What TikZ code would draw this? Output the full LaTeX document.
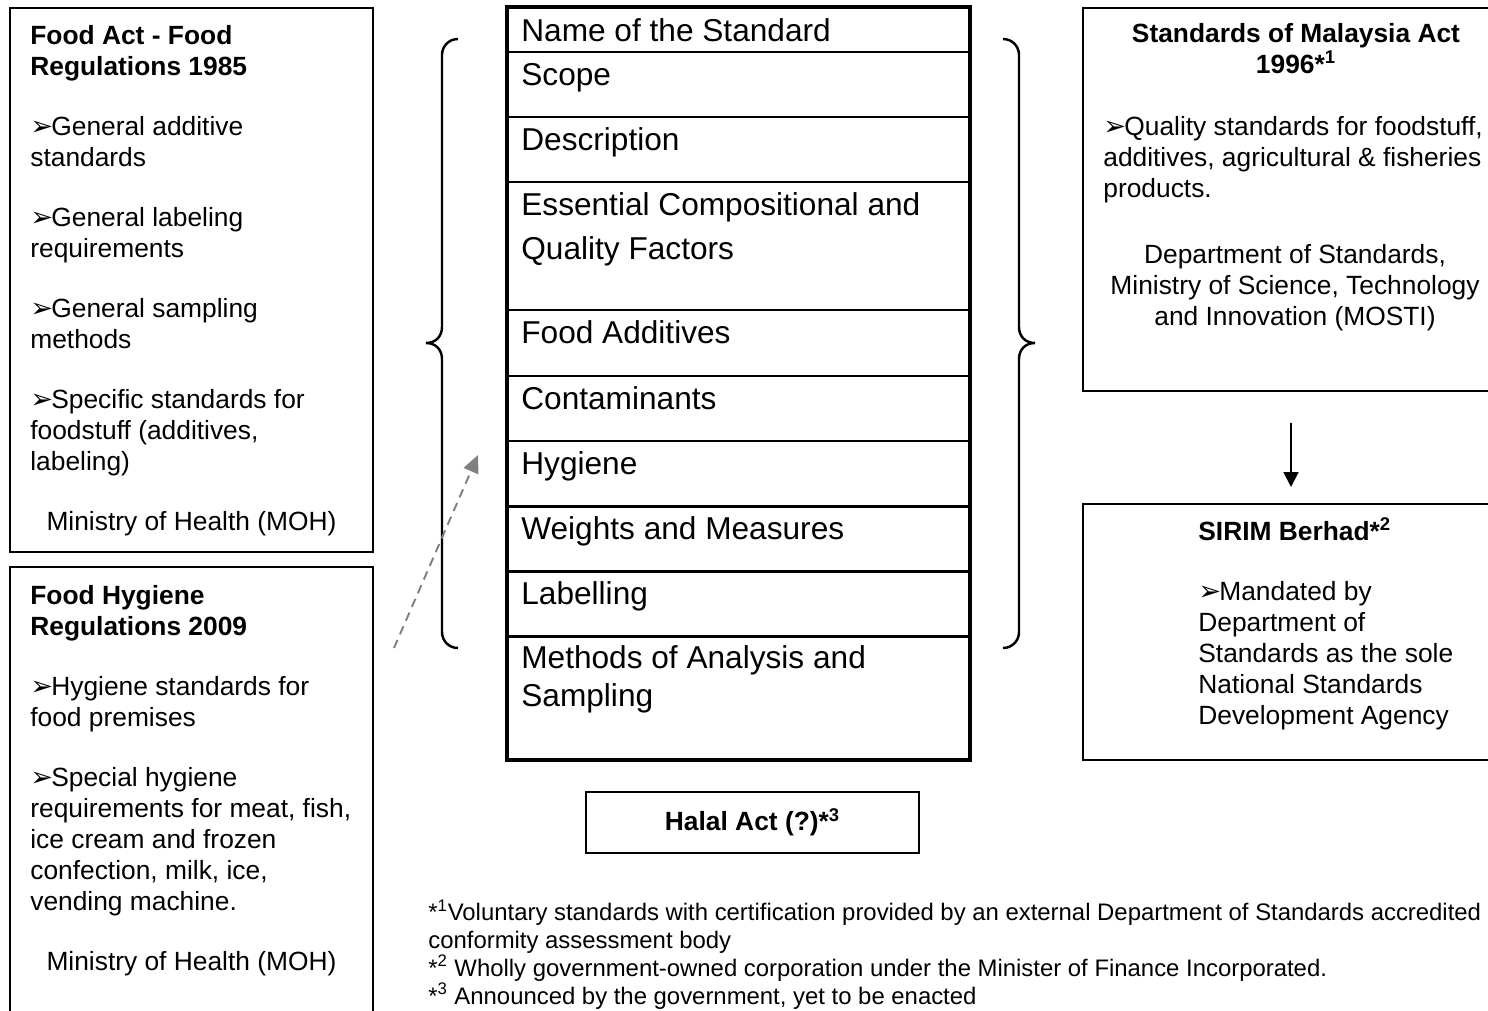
\documentclass[tikz,border=0pt]{standalone}
\usepackage{fontspec}
\setmainfont{Liberation Sans}
\newfontfamily\symfont{DejaVu Sans}
\usetikzlibrary{positioning}
\usetikzlibrary{arrows.meta}

% arrowhead bullet as in the slide
\newcommand{\bul}{\makebox[0.42cm][l]{\symfont\fontsize{15.5}{15.5}\selectfont ➢}}

\begin{document}
\begin{tikzpicture}[x=0.02cm, y=-0.02cm,
    panel/.style={draw, line width=1.1pt, inner sep=0pt},
    body/.style={font=\fontsize{15}{17.64}\selectfont, inner sep=0pt, align=left},
    cell/.style={font=\fontsize{18}{21.6}\selectfont, inner sep=0pt, align=left, anchor=base west},
    note/.style={font=\fontsize{13.6}{15.9}\selectfont, inner sep=0pt, align=left, anchor=base west},
    brace/.style={line width=1.4pt},
    dashedarrow/.style={draw=gray, line width=1.1pt, dash pattern=on 5pt off 3.5pt, -{Triangle[length=10pt,width=9pt]}},
    downarrow/.style={line width=1.1pt, -{Triangle[length=8.5pt,width=8.5pt]}}]
    % page size, boxes on the right and bottom run off the page
    \path[use as bounding box, clip] (0,0) rectangle (1488,1011);
    % multi-line texts are placed by the baseline of their last line
    \def\gap{16.5pt}

    % left column
    \node[panel, minimum width=7.26cm, minimum height=10.88cm] (foodact) at (191.5,280) {};
    \node[body, anchor=base west] (foodact-txt) at (30,470) {\textbf{Food Act - Food}\\\textbf{Regulations 1985}\\[\gap]
        \bul General additive\\standards\\[\gap]
        \bul General labeling\\requirements\\[\gap]
        \bul General sampling\\methods\\[\gap]
        \bul Specific standards for\\foodstuff (additives,\\labeling)};
    \node[body, anchor=base] (foodact-moh) at (191.5,530) {Ministry of Health (MOH)};

    \node[panel, minimum width=7.26cm, minimum height=9.46cm] (hygiene) at (191.5,803.5) {};
    \node[body, anchor=base west] (hygiene-txt) at (30,910) {\textbf{Food Hygiene}\\\textbf{Regulations 2009}\\[\gap]
        \bul Hygiene standards for\\food premises\\[\gap]
        \bul Special hygiene\\requirements for meat, fish,\\ice cream and frozen\\confection, milk, ice,\\vending machine.};
    \node[body, anchor=base] (hygiene-moh) at (191.5,970) {Ministry of Health (MOH)};

    % the standard and its parts
    \node[draw, line width=2.4pt, minimum width=9.26cm, minimum height=15.06cm] (std) at (738.5,383.5) {};
    \foreach \y in {52,117,182,310,376,441,506,571,636}
        \draw[line width=1.7pt] (507,\y) -- (970,\y);
    \foreach \y/\txt [count=\k] in {41/Name of the Standard, 85/Scope, 150/Description,
        259/{Essential Compositional and\\[2.9pt]Quality Factors}, 343/Food Additives, 409/Contaminants,
        474/Hygiene, 539/Weights and Measures, 604/Labelling, 706/{Methods of Analysis and\\Sampling}}
        \node[cell] (part\k) at (521,\y) {\txt};

    % braces
    \draw[brace] (458,39) .. controls (449,39) and (442,46) .. (442,55) -- (442,327)
        .. controls (442,336) and (436,343) .. (426,343) .. controls (436,343) and (442,350) .. (442,359)
        -- (442,632) .. controls (442,641) and (449,648) .. (458,648);
    \draw[brace] (1003,39) .. controls (1012,39) and (1019,46) .. (1019,55) -- (1019,327)
        .. controls (1019,336) and (1025,343) .. (1035,343) .. controls (1025,343) and (1019,350) .. (1019,359)
        -- (1019,632) .. controls (1019,641) and (1012,648) .. (1003,648);

    \coordinate (dash-a) at (394,648);
    \coordinate (dash-b) at (478,455);
    \draw[dashedarrow] (dash-a) -- (dash-b);

    \node[panel, minimum width=6.66cm, minimum height=1.22cm, font=\fontsize{15}{17.64}\selectfont\bfseries] (halal) at (752.5,822.5) {Halal Act (?)*\textsuperscript{3}};

    % right column
    \node[panel, minimum width=8.54cm, minimum height=7.66cm] (smact) at (1296.5,199.5) {};
    \node[body, align=center, anchor=base] (smact-head) at (1296,73) {\textbf{Standards of Malaysia Act}\\\textbf{1996*\textsuperscript{1}}};
    \node[body, anchor=base west] (smact-txt) at (1103,197) {\bul Quality standards for foodstuff,\\additives, agricultural \& fisheries\\products.};
    \node[body, align=center, anchor=base] (smact-dept) at (1295,325) {Department of Standards,\\Ministry of Science, Technology\\and Innovation (MOSTI)};

    \coordinate (down-a) at (1291,423);
    \coordinate (down-b) at (1291,487);
    \draw[downarrow] (down-a) -- (down-b);

    \node[panel, minimum width=8.54cm, minimum height=5.12cm] (sirim) at (1296.5,632) {};
    \node[body, anchor=base west] (sirim-txt) at (1198,724) {\textbf{SIRIM Berhad*\textsuperscript{2}}\\[\gap]
        \bul Mandated by\\Department of\\Standards as the sole\\National Standards\\Development Agency};

    % footnotes
    \node[note] (notes) at (428,1004) {*\textsuperscript{1}Voluntary standards with certification provided by an external Department of Standards accredited\\
        conformity assessment body\\
        *\textsuperscript{2} Wholly government-owned corporation under the Minister of Finance Incorporated.\\
        *\textsuperscript{3} Announced by the government, yet to be enacted};
\end{tikzpicture}
\end{document}
